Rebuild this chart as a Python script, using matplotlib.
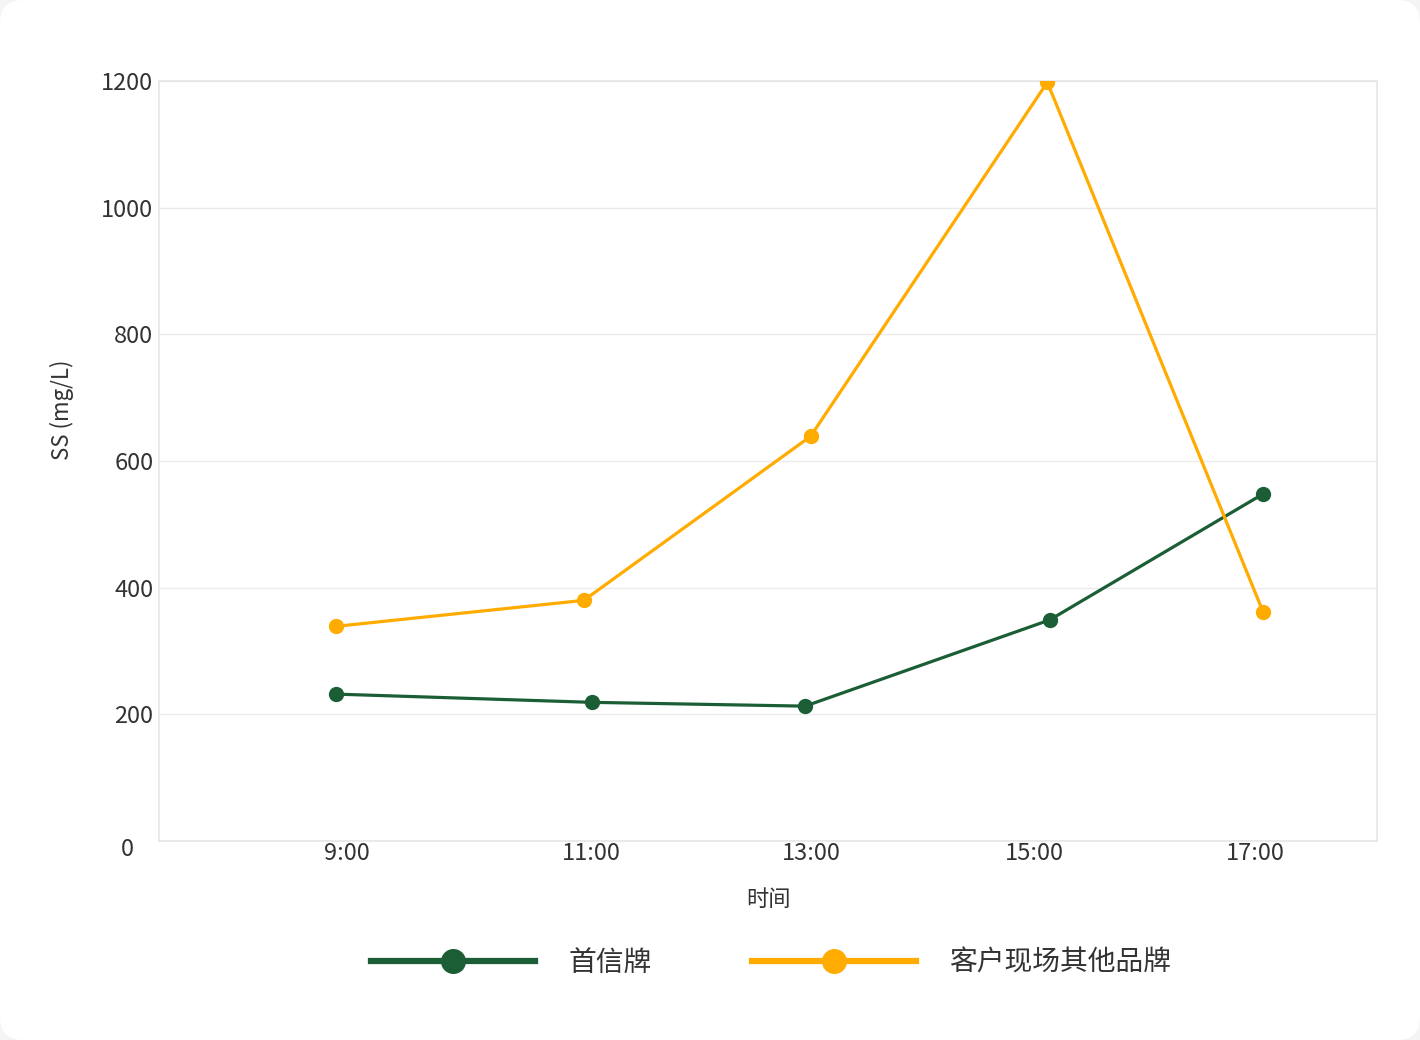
import matplotlib.pyplot as plt
from matplotlib.lines import Line2D
from matplotlib.patches import FancyBboxPatch
from matplotlib.transforms import ScaledTranslation

plt.rcParams['font.family'] = ['Noto Sans CJK SC', 'DejaVu Sans']

# data (x in hours)
tick_pos = [8.79, 11.0, 12.99, 15.0, 17.0]
tick_labels = ['9:00', '11:00', '13:00', '15:00', '17:00']

x_shouxin = [8.69, 11.0, 12.93, 15.14, 17.07]
y_shouxin = [232, 219, 213, 349, 548]

x_other = [8.69, 10.93, 12.98, 15.12, 17.07]
y_other = [339, 380, 639, 1198, 362]

green = '#1b5e35'
orange = '#ffab00'

fig = plt.figure(figsize=(14.2, 10.4), dpi=100)
fig.patch.set_facecolor('#f4f4f4')
bg = FancyBboxPatch((0.0, 0.0), 1.0, 1.0, boxstyle='round,pad=0,rounding_size=0.016',
                    transform=fig.transFigure, facecolor='white', edgecolor='none',
                    mutation_aspect=1420 / 1040, zorder=-10)
fig.patches.append(bg)

ax = fig.add_axes([0.112, 0.1913, 0.8577, 0.7308])
ax.set_facecolor('white')

ax.plot(x_shouxin, y_shouxin, color=green, lw=2.3, marker='o', ms=10, zorder=3)
ax.plot(x_other, y_other, color=orange, lw=2.3, marker='o', ms=10, zorder=3)

ax.set_xlim(7.09, 18.10)
ax.set_ylim(0, 1200)
ax.set_yticks([0, 200, 400, 600, 800, 1000, 1200])
ax.set_xticks(tick_pos)
ax.set_xticklabels(tick_labels)

ax.grid(axis='y', color='#ebebeb', lw=1)
ax.set_axisbelow(True)
for s in ax.spines.values():
    s.set_color('#e6e6e6')
    s.set_linewidth(1.2)
ax.tick_params(length=0, labelsize=17, colors='#333333')
ax.tick_params(axis='x', pad=1)
ax.tick_params(axis='y', pad=4)

# the "0" label sits a bit left of and below the others
zero = ax.get_yticklabels()[0]
zero.set_transform(zero.get_transform() + ScaledTranslation(-0.20, -0.06, fig.dpi_scale_trans))

ax.set_xlabel('时间', fontsize=16, color='#333333', labelpad=16)
ax.set_ylabel('SS (mg/L)', fontsize=16, color='#333333')
ax.yaxis.set_label_coords(-0.070, 0.567)

handles = [
    Line2D([], [], color=green, lw=4.5, marker='o', ms=17),
    Line2D([], [], color=orange, lw=4.5, marker='o', ms=17),
]
fig.legend(handles, ['首信牌', '客户现场其他品牌'], loc='center', ncol=2,
           bbox_to_anchor=(0.543, 0.074), frameon=False, fontsize=20,
           handlelength=5.9, handletextpad=1.2, columnspacing=3.6,
           labelcolor='#333333')

fig.savefig('out.png', dpi=100, facecolor=fig.get_facecolor())
